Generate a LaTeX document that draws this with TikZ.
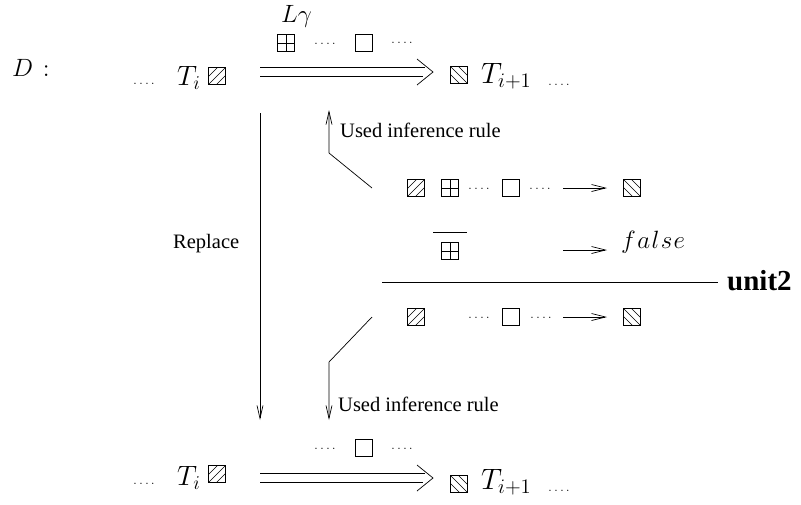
\documentclass[tikz,border=0pt]{standalone}
\usepackage[no-math]{fontspec}
\setmainfont{Liberation Serif}
\DeclareFontShape{OML}{cmm}{m}{it}{<->cmmi12}{}
\DeclareFontShape{OMS}{cmsy}{m}{n}{<->cmsy10}{}
\DeclareFontShape{OT1}{cmr}{m}{n}{<->cmr12}{}
\usetikzlibrary{arrows.meta,calc}

\tikzset{
  sq/.style={draw, line width=0.7pt, minimum size=16.5pt, inner sep=0pt, outer sep=0pt},
  nebox/.style={sq, path picture={
     \foreach \a/\b/\c/\d in {-9/1/1/-9, -9/9/9/-9, -1/9/9/-1}
       \draw[line width=0.6pt] ([shift={(\a,\b)}]path picture bounding box.center) -- ([shift={(\c,\d)}]path picture bounding box.center);}},
  nwbox/.style={sq, path picture={
     \foreach \a/\b/\c/\d in {-9/-1/1/9, -9/-9/9/9, -1/-9/9/1}
       \draw[line width=0.6pt] ([shift={(\a,\b)}]path picture bounding box.center) -- ([shift={(\c,\d)}]path picture bounding box.center);}},
  gridbox/.style={sq, path picture={
       \draw[line width=0.6pt] (path picture bounding box.north) -- (path picture bounding box.south);
       \draw[line width=0.6pt] (path picture bounding box.west) -- (path picture bounding box.east);}},
  emptybox/.style={sq},
  dts/.style={font=\ttfamily\fontsize{11.5}{12}\selectfont, inner sep=0pt, anchor=base west},
  mth/.style={font=\fontsize{28}{32}\selectfont, inner sep=0pt, anchor=base west},
  mthb/.style={font=\fontsize{29.5}{32}\selectfont, inner sep=0pt, anchor=base west},
  lbl/.style={font=\fontsize{20.5}{24}\selectfont, inner sep=0pt, anchor=base west},
  ln/.style={line width=0.7pt},
  sarr/.style={ln, -{Straight Barb[length=14pt,width=7pt,line width=0.7pt]}},
  varr/.style={ln, -{Straight Barb[length=13pt,width=6pt,line width=0.7pt]}},
}

\begin{document}
\begin{tikzpicture}[x=1pt,y=-1pt]
\useasboundingbox (0,0) rectangle (801,504);

% ---------- top row ----------
\node[mth, font=\fontsize{25}{28}\selectfont] (D) at (12,76) {$D\mkern7mu{:}$};
\node[dts] (d1) at (132,84) {....};
\node[mth] (Ti) at (177,85) {$T_i$};
\node[nebox] (b1) at (217,76) {};
\node[mth, font=\fontsize{25}{30}\selectfont] (Lg) at (281,22) {$L\gamma$};
\node[gridbox] (g1) at (286,43) {};
\node[dts] (d2) at (313,44) {....};
\node[emptybox] (e1) at (364,43) {};
\node[dts] (d3) at (390,43) {....};
\node[nwbox] (b2) at (459,75) {};
\node[mthb] (Ti1) at (481,83) {$T_{i+1}$};
\node[dts] (d4) at (547,85) {....};

\coordinate (tA) at (260,72);
\coordinate (tB) at (433,72);
\draw[ln] ([shift={(0,-4.5)}]tA) -- ([shift={(-8,-4.5)}]tB);
\draw[ln] ([shift={(0,4.5)}]tA) -- ([shift={(-10,4.5)}]tB);
\draw[ln] ([shift={(-16,-13)}]tB) -- (tB) -- ([shift={(-16,13)}]tB);

% ---------- replace ----------
\coordinate (r1) at (260,113);
\coordinate (r2) at (260,420);
\draw[varr] (r1) -- (r2);
\node[lbl] (rep) at (173,248) {Replace};

% ---------- upper used inference rule ----------
\coordinate (u0) at (372,188);
\coordinate (u1) at (329,153);
\coordinate (u2) at (329,110);
\draw[varr] (u0) -- (u1) -- (u2);
\node[lbl] (uir1) at (340,137) {Used inference rule};

% ---------- row 1 ----------
\node[nebox] (r1a) at (416,188) {};
\node[gridbox] (r1b) at (450,188) {};
\node[dts] (r1d1) at (467,189) {....};
\node[emptybox] (r1c) at (511,188) {};
\node[dts] (r1d2) at (528,189) {....};
\coordinate (r1s) at (563,188);
\coordinate (r1e) at (607,188);
\draw[sarr] (r1s) -- (r1e);
\node[nwbox] (r1f) at (632,188) {};

% ---------- row 2 ----------
\node[gridbox] (r2a) at (450,251) {};
\draw[ln] (433,232) -- (467,232);
\coordinate (r2s) at (563,250);
\coordinate (r2e) at (607,250);
\draw[sarr] (r2s) -- (r2e);
\node[mth, font=\fontsize{25}{30}\selectfont] (fls) at (621,248) {$f\mkern1mu a\mkern1mu l\mkern1mu s\mkern1mu e$};

% ---------- rule line ----------
\coordinate (h1) at (382,282);
\coordinate (h2) at (718,282);
\draw[ln] (h1) -- (h2);
\node[inner sep=0pt, anchor=base west, font=\bfseries\fontsize{29}{32}\selectfont] (unit) at (727,290) {unit2};

% ---------- row 3 ----------
\node[nebox] (r3a) at (416,317) {};
\node[dts] (r3d1) at (467,318) {....};
\node[emptybox] (r3c) at (511,317) {};
\node[dts] (r3d2) at (529,318) {....};
\coordinate (r3s) at (563,317);
\coordinate (r3e) at (607,317);
\draw[sarr] (r3s) -- (r3e);
\node[nwbox] (r3f) at (632,317) {};

% ---------- lower used inference rule ----------
\coordinate (l0) at (372,317);
\coordinate (l1) at (329,362);
\coordinate (l2) at (329,420);
\draw[varr] (l0) -- (l1) -- (l2);
\node[lbl] (uir2) at (338,411) {Used inference rule};

% ---------- bottom row ----------
\node[dts] (bd1) at (132,484) {....};
\node[mth] (bTi) at (177,485) {$T_i$};
\node[nebox] (bb1) at (217,474) {};
\node[dts] (bd2) at (313,449) {....};
\node[emptybox] (be1) at (364,448) {};
\node[dts] (bd3) at (390,449) {....};
\node[nwbox] (bb2) at (459,484) {};
\node[mthb] (bTi1) at (481,489) {$T_{i+1}$};
\node[dts] (bd4) at (547,491) {....};

\coordinate (bA) at (260,478);
\coordinate (bB) at (433,478);
\draw[ln] ([shift={(0,-4.5)}]bA) -- ([shift={(-8,-4.5)}]bB);
\draw[ln] ([shift={(0,4.5)}]bA) -- ([shift={(-10,4.5)}]bB);
\draw[ln] ([shift={(-16,-13)}]bB) -- (bB) -- ([shift={(-16,13)}]bB);
\end{tikzpicture}
\end{document}
